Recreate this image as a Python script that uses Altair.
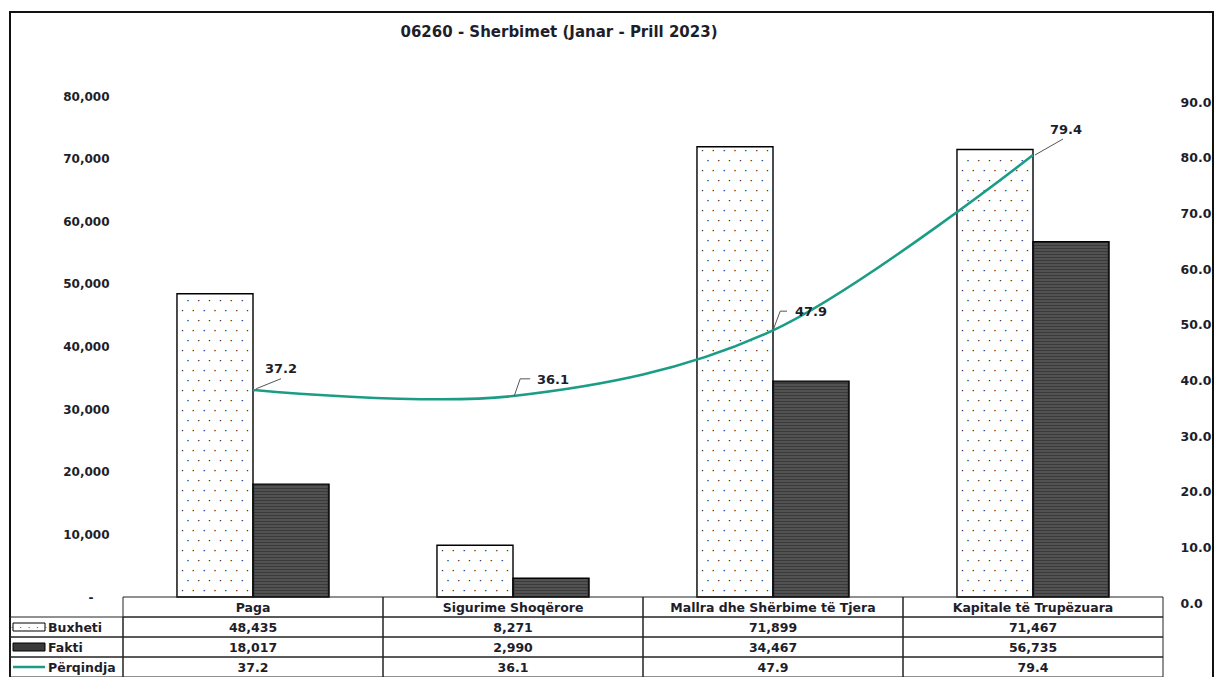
import altair as alt
import pandas as pd

# ---------------- data ----------------
categories = ["Paga", "Sigurime Shoqërore", "Mallra dhe Shërbime të Tjera", "Kapitale të Trupëzuara"]
buxheti = [48435, 8271, 71899, 71467]
fakti = [18017, 2990, 34467, 56735]
perqindja = [37.2, 36.1, 47.9, 79.4]
series = ["Buxheti", "Fakti"]
row_labels = ["Buxheti", "Fakti", "Përqindja"]
title_text = "06260 - Sherbimet (Janar - Prill 2023)"
left_ticks = list(range(0, 80001, 10000))
right_ticks = list(range(0, 91, 10))

# ---------------- layout / style ----------------
W, H = 1040, 501
ROW = 20
LMAX, RMAX = 80000, 90
PAD_L, PAD_R = 115, 52
FONT = "DejaVu Sans"
TXT = "#1e1e2a"
TEAL = "#1b9c85"
DARK = "#3a3a3a"
FL = -(PAD_L - 2)          # frame left (plot coordinates)
FR = W + PAD_R - 2         # frame right

bars_df = pd.DataFrame({
    "cat": categories * 2,
    "series": ["Buxheti"] * len(categories) + ["Fakti"] * len(categories),
    "value": buxheti + fakti,
})
line_df = pd.DataFrame({"cat": categories, "pct": perqindja})

# texture rows (decoration derived from the bar values)
dot_step = LMAX / H * 10
dot_rows = []
for c, v in zip(categories, buxheti):
    y, k = dot_step * 0.6, 0
    while y < v - dot_step * 0.4:
        dot_rows.append({"cat": c, "series": "Buxheti", "value": y,
                         "t": "· · · · · · ·" if k % 2 == 0 else "· · · · · ·"})
        y += dot_step
        k += 1
dots_df = pd.DataFrame(dot_rows)

stripe_step = LMAX / H * 3
stripe_rows = []
for c, v in zip(categories, fakti):
    y = stripe_step * 0.7
    while y < v - stripe_step * 0.5:
        stripe_rows.append({"cat": c, "series": "Fakti", "value": y})
        y += stripe_step
stripes_df = pd.DataFrame(stripe_rows)

X = alt.X("cat:N", sort=categories,
          scale=alt.Scale(type="band", domain=categories, paddingInner=0, paddingOuter=0),
          axis=None)
XO = alt.XOffset("series:N", sort=series,
                 scale=alt.Scale(domain=series, paddingInner=0, paddingOuter=0.71))
LAXIS = alt.Axis(values=left_ticks,
                 labelExpr="datum.value == 0 ? '-' : format(datum.value, ',')",
                 ticks=False, domain=False, grid=False,
                 labelPadding={"condition": {"test": "datum.value == 0", "value": 30}, "value": 14},
                 labelFont=FONT, labelFontWeight="bold", labelFontSize=12,
                 labelColor=TXT, title=None)
YL = alt.Y("value:Q", scale=alt.Scale(domain=[0, LMAX], nice=False, zero=True), axis=LAXIS)

deco = alt.Data(values=[{"k": 1}])

# frame round the whole chart and the title
frame = alt.Chart(deco).mark_rect(fillOpacity=0, stroke="#111", strokeWidth=2).encode(
    x=alt.value(FL), x2=alt.value(FR), y=alt.value(-84), y2=alt.value(640))
title = alt.Chart(deco).mark_text(font=FONT, fontSize=15, fontWeight="bold", color=TXT,
                                  align="center", baseline="middle").encode(
    x=alt.value(436), y=alt.value(-64), text=alt.value(title_text))

bars = alt.Chart(bars_df).mark_bar(stroke="black", strokeWidth=1.4).encode(
    x=X, xOffset=XO, y=YL,
    fill=alt.Fill("series:N", scale=alt.Scale(domain=series, range=["white", DARK]), legend=None),
)

dots = alt.Chart(dots_df).mark_text(font="DejaVu Sans Mono", fontSize=9, color="#111",
                                    align="center", baseline="middle").encode(
    x=X, xOffset=XO, y=YL, text="t:N")

stripes = alt.Chart(stripes_df).mark_tick(orient="horizontal", size=73, thickness=1,
                                         color="#808080").encode(
    x=X, xOffset=XO, y=YL)

# ---------------- data table below the plot ----------------
table_rows = [
    categories,
    [f"{v:,}" for v in buxheti],
    [f"{v:,}" for v in fakti],
    [f"{v:.1f}" for v in perqindja],
]
table_layers = []
for r, texts in enumerate(table_rows):
    tdf = pd.DataFrame({"cat": categories, "t": texts})
    top = H + ROW * r
    table_layers.append(
        alt.Chart(tdf).mark_rect(fillOpacity=0, stroke="#222", strokeWidth=1).encode(
            x=X, y=alt.value(top), y2=alt.value(top + ROW)))
    table_layers.append(
        alt.Chart(tdf).mark_text(font=FONT, fontSize=12.5, fontWeight="bold", color=TXT,
                                 baseline="middle").encode(
            x=X, y=alt.value(top + ROW / 2 + 1), text="t:N"))

for i, lab in enumerate(row_labels):
    top = H + ROW * (i + 1)
    ldf = pd.DataFrame({"t": [lab]})
    table_layers.append(
        alt.Chart(ldf).mark_rect(fillOpacity=0, stroke="#222", strokeWidth=1).encode(
            x=alt.value(FL), x2=alt.value(0), y=alt.value(top), y2=alt.value(top + ROW)))
    table_layers.append(
        alt.Chart(ldf).mark_text(font=FONT, fontSize=12.5, fontWeight="bold", color=TXT,
                                 align="left", baseline="middle").encode(
            x=alt.value(FL + 38), y=alt.value(top + ROW / 2 + 1), text="t:N"))
    cy = top + ROW / 2
    kx0, kx1 = FL + 3, FL + 35
    if lab == "Buxheti":
        table_layers.append(alt.Chart(ldf).mark_rect(fill="white", stroke="black", strokeWidth=1).encode(
            x=alt.value(kx0), x2=alt.value(kx1), y=alt.value(cy - 4), y2=alt.value(cy + 4)))
        table_layers.append(alt.Chart(ldf).mark_text(font="DejaVu Sans Mono", fontSize=7, color="#333",
                                                     baseline="middle").encode(
            x=alt.value((kx0 + kx1) / 2), y=alt.value(cy + 1), text=alt.value("· · · · ·")))
    elif lab == "Fakti":
        table_layers.append(alt.Chart(ldf).mark_rect(fill=DARK, stroke="black", strokeWidth=1).encode(
            x=alt.value(kx0), x2=alt.value(kx1), y=alt.value(cy - 4), y2=alt.value(cy + 4)))
    else:
        table_layers.append(alt.Chart(ldf).mark_rule(color=TEAL, strokeWidth=2.5).encode(
            x=alt.value(kx0), x2=alt.value(kx1), y=alt.value(cy)))

left = alt.layer(frame, title, bars, stripes, dots, *table_layers)

# ---------------- percentage line (right axis) ----------------
RAXIS = alt.Axis(orient="right", values=right_ticks, format=".1f",
                 ticks=False, domain=False, grid=False, labelPadding=17,
                 labelOffset=6,
                 labelFont=FONT, labelFontWeight="bold", labelFontSize=12.5,
                 labelColor=TXT, title=None)
YR = alt.Y("pct:Q", scale=alt.Scale(domain=[0, RMAX], nice=False, zero=True), axis=RAXIS)

line = alt.Chart(line_df).mark_line(interpolate="cardinal", color=TEAL, strokeWidth=2.5).encode(
    x=X, y=YR)

# label placement: (dx, dy, align, leader path, leader radius)
label_style = [
    (28, -21, "center", "M0.08,-0.03L0.7,-0.28", 40),
    (24, -16, "left", "M0.03,0L0.18,-0.43L0.43,-0.43", 40),
    (22, -18, "left", "M0,0L0.18,-0.48L0.35,-0.48", 40),
    (33, -25, "center", "M0.05,0L0.75,-0.4", 40),
]
label_layers = []
for c, (dx, dy, al, path, rad) in zip(categories, label_style):
    sub = line_df[line_df["cat"] == c]
    label_layers.append(
        alt.Chart(sub).mark_point(shape=path, size=(2 * rad) ** 2, filled=False,
                                  color="#555", strokeWidth=1, opacity=1).encode(
            x=X, y=YR))
    label_layers.append(
        alt.Chart(sub).mark_text(font=FONT, fontSize=13, fontWeight="bold", color=TXT,
                                 align=al, baseline="middle", dx=dx, dy=dy).encode(
            x=X, y=YR, text=alt.Text("pct:Q", format=".1f")))

right = alt.layer(line, *label_layers)

chart = alt.layer(left, right).resolve_scale(y="independent").properties(
    width=W, height=H,
    autosize="none",
    background="white",
    padding={"left": PAD_L, "top": 88, "right": PAD_R, "bottom": 90},
).configure_view(stroke=None)

chart.save("out.html", embed_options={"renderer": "svg", "actions": False})
